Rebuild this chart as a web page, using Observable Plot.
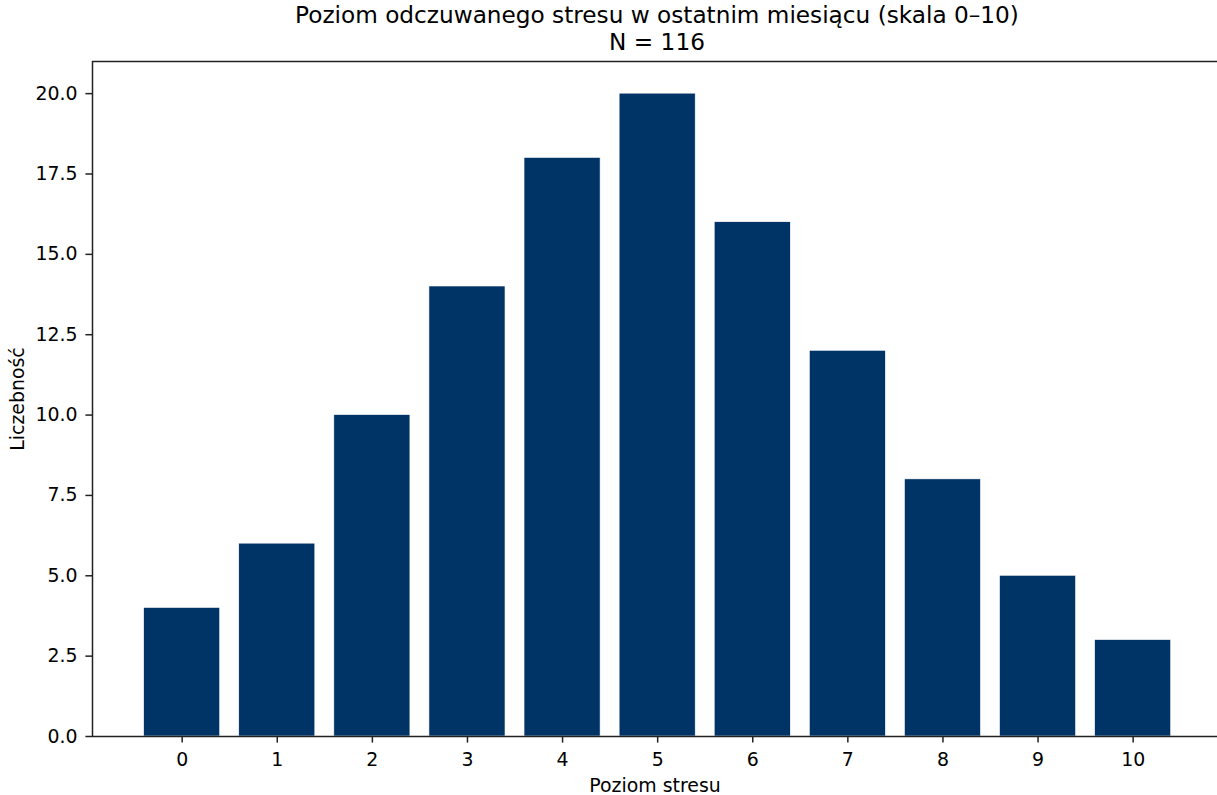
<!DOCTYPE html>
<html>
<head>
<meta charset="utf-8">
<script src="https://cdn.jsdelivr.net/npm/d3@7"></script>
<script src="https://cdn.jsdelivr.net/npm/@observablehq/plot@0.6"></script>
<style>
  html, body { margin: 0; padding: 0; background: white; }
  #title { margin-left: 92px; width: 1130px; height: 56px; box-sizing: border-box; padding-top: 1.3px; text-align: center;
    font-family: "DejaVu Sans", sans-serif; font-size: 23.2px; line-height: 27px; color: #000; white-space: nowrap; }
  svg { display: block; }
</style>
</head>
<body>
<div id="title">Poziom odczuwanego stresu w ostatnim miesiącu (skala 0–10)<br>N = 116</div>
<div id="chart"></div>
<script>
const levels = [0, 1, 2, 3, 4, 5, 6, 7, 8, 9, 10];
const counts = [4, 6, 10, 14, 18, 20, 16, 12, 8, 5, 3];
const yTicks = [0, 2.5, 5, 7.5, 10, 12.5, 15, 17.5, 20];
const xLabel = "Poziom stresu";
const yLabel = "Liczebność";

const data = levels.map((l, i) => ({level: l, count: counts[i]}));
const barHalf = 0.4;
const xDomain = [-0.943, 10.887];
const yDomain = [0, 21];
const axisColor = "#222";

const chart = Plot.plot({
  width: 1217,
  height: 739,
  marginTop: 5,
  marginBottom: 59,
  marginLeft: 92,
  marginRight: 0,
  style: {fontFamily: "DejaVu Sans", fontSize: "18.9px", color: "#000", background: "white"},
  x: {type: "linear", domain: xDomain},
  y: {domain: yDomain},
  marks: [
    Plot.rectY(data, {x1: d => d.level - barHalf, x2: d => d.level + barHalf, y1: 0, y2: "count",
      fill: "#003366", stroke: "white", strokeWidth: 0.6}),
    Plot.axisX({ticks: levels, tickFormat: d => String(d), tickSize: 6.6, tickPadding: 9,
      stroke: axisColor, strokeWidth: 1.5, label: xLabel, labelAnchor: "center", labelArrow: "none", labelOffset: 55}),
    Plot.axisY({ticks: yTicks, tickFormat: d => d.toFixed(1), tickSize: 6.6, tickPadding: 8.3,
      stroke: axisColor, strokeWidth: 1.5, label: yLabel, labelAnchor: "center", labelArrow: "none", labelOffset: 82}),
    Plot.ruleY([yDomain[0], yDomain[1]], {stroke: axisColor, strokeWidth: 1.5}),
    Plot.ruleX([xDomain[0]], {stroke: axisColor, strokeWidth: 1.5})
  ]
});
document.getElementById("chart").appendChild(chart);
</script>
</body>
</html>
